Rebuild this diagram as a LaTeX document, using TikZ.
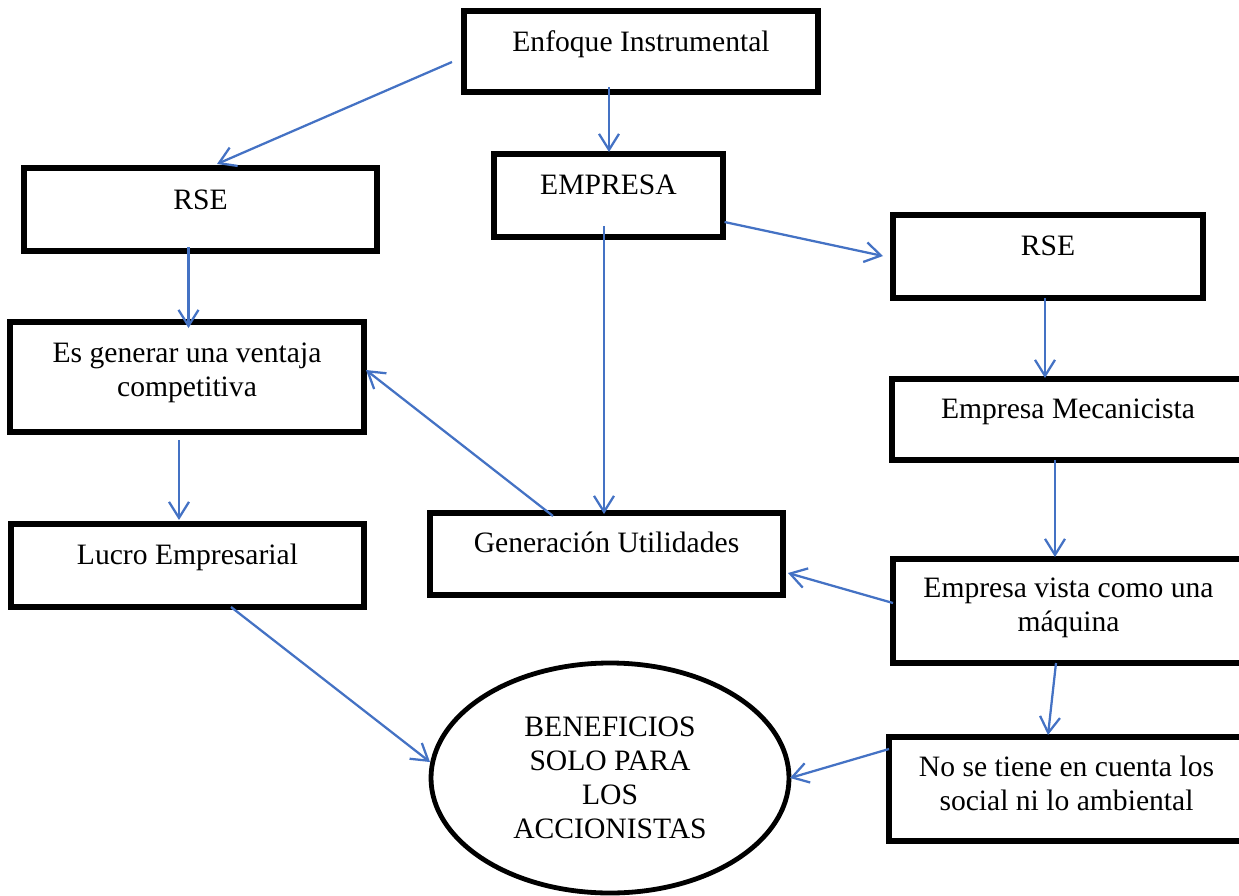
\documentclass[tikz,border=0pt]{standalone}
\usepackage{fontspec}
\setmainfont{Liberation Serif}
\usetikzlibrary{arrows.meta,calc,shapes.geometric}
\definecolor{arrblue}{RGB}{68,114,196}
\begin{document}
\begin{tikzpicture}[x=0.75pt,y=-0.75pt,
  box/.style 2 args={draw=black,line width=4.1pt,minimum width=#1*0.75pt,minimum height=#2*0.75pt,inner sep=0pt,outer sep=0pt},
  txt/.style={font=\fontsize{22.2}{25.5}\selectfont,align=center,inner sep=0pt,anchor=base},
  ell/.style={draw=black,line width=3.6pt,ellipse,minimum width=358*0.75pt,minimum height=230*0.75pt,inner sep=0pt,outer sep=0pt,font=\fontsize{22.2}{25.5}\selectfont,align=center},
  arr/.style={draw=arrblue,line width=1.7pt,-{Straight Barb[length=12pt,width=15pt]}}]
\useasboundingbox (0,0) rectangle (1239,896);
\clip (0,0) rectangle (1239,896);
% boxes
\node[box={354}{81}]  (enf)  at (641,51.5) {};
\node[box={353}{83}]  (rse1) at (200.5,209.5) {};
\node[box={229}{83}]  (emp)  at (608.5,195.5) {};
\node[box={310}{83}]  (rse2) at (1048,256.5) {};
\node[box={354}{110}] (esg)  at (187,377) {};
\node[box={352}{81}]  (mec)  at (1068,419.5) {};
\node[box={353}{83}]  (luc)  at (187.5,565.5) {};
\node[box={353}{82}]  (gen)  at (606.5,554) {};
\node[box={351}{104}] (vis)  at (1068.5,611) {};
\node[box={355}{104}] (nos)  at (1066.5,789) {};
\node[ell] (ben) at (610,778) {BENEFICIOS\\SOLO PARA\\LOS\\ACCIONISTAS};
% texts
\node[txt] (enft)  at ($(enf.north)+(0,40)$)  {Enfoque Instrumental};
\node[txt] (rse1t) at ($(rse1.north)+(0,41)$) {RSE};
\node[txt] (empt)  at ($(emp.north)+(0,40)$)  {EMPRESA};
\node[txt] (rse2t) at ($(rse2.north)+(0,40)$) {RSE};
\node[txt] (esgt)  at ($(esg.north)+(0,74)$)  {Es generar una ventaja\\competitiva};
\node[txt] (mect)  at ($(mec.north)+(0,39)$)  {Empresa Mecanicista};
\node[txt] (luct)  at ($(luc.north)+(0,40)$)  {Lucro Empresarial};
\node[txt] (gent)  at ($(gen.north)+(0,39)$)  {Generación Utilidades};
\node[txt] (vist)  at ($(vis.north)+(0,72)$)  {Empresa vista como una\\máquina};
\node[txt] (nost)  at ($(nos.north)+(0,73)$)  {No se tiene en cuenta los\\social ni lo ambiental};
% connectors
\draw[arr] ($(enf.west)+(-12,10.5)$) -- ($(rse1.north)+(16.5,-4)$);
\draw[arr] ($(enf.south)+(-32,-5)$) -- ($(emp.north)+(0.5,-2)$);
\draw[arr] ($(rse1.south)+(-12,-4)$) -- ($(esg.north)+(1.5,6)$);
\draw[arr] ($(esg.south)+(-8,8)$) -- ($(luc.north)+(-8.5,-4)$);
\draw[arr] ($(luc.south)+(43.5,0)$) -- ($(ben.center)+(-180,-16)$);
\draw[arr] ($(emp.south)+(-4.5,-11)$) -- ($(gen.north)+(-2.5,1)$);
\draw[arr] ($(gen.north)+(-53.5,3)$) -- ($(esg.east)+(2,-7)$);
\draw[arr] ($(emp.east)+(1.5,26.5)$) -- ($(rse2.west)+(-10,-0.5)$);
\draw[arr] ($(rse2.south)+(-3,0)$) -- ($(mec.north)+(-23,-1)$);
\draw[arr] ($(mec.south)+(-13,0)$) -- ($(vis.north)+(-13.5,-2)$);
\draw[arr] ($(vis.west)+(0,-8)$) -- ($(gen.east)+(5,19)$);
\draw[arr] ($(vis.south)+(-12.5,0)$) -- ($(nos.north)+(-18.5,-2)$);
\draw[arr] ($(nos.west)+(0,-40)$) -- ($(ben.center)+(180,0)$);
\end{tikzpicture}
\end{document}
